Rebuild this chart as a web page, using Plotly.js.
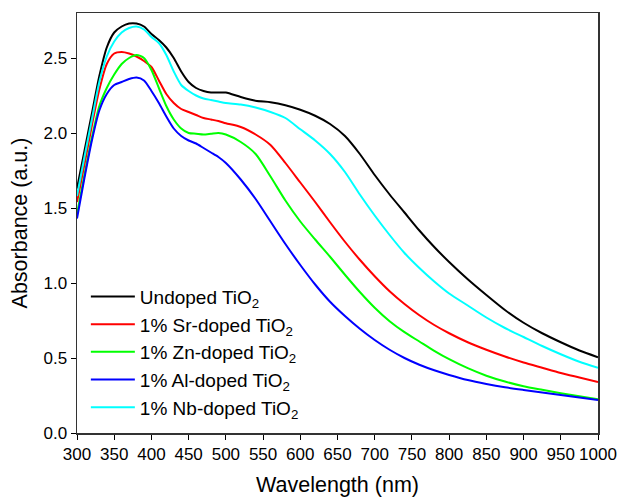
<!DOCTYPE html>
<html>
<head>
<meta charset="utf-8">
<script src="https://cdn.plot.ly/plotly-3.0.1.min.js"></script>
<style>
  html, body { margin: 0; padding: 0; background: #fff; }
  #chart { width: 619px; height: 497px; }
</style>
</head>
<body>
<div id="chart"></div>
<script>
const wavelength = [300, 310, 320, 330, 340, 350, 360, 370, 380, 390, 400, 410, 420, 430, 440, 450, 460, 470, 480, 490, 500, 520, 540, 560, 580, 600, 620, 640, 660, 680, 700, 720, 740, 760, 780, 800, 825, 850, 875, 900, 925, 950, 975, 1000];

const undoped = [1.63, 1.88, 2.13, 2.38, 2.57, 2.67, 2.71, 2.73, 2.73, 2.71, 2.66, 2.62, 2.57, 2.50, 2.41, 2.34, 2.30, 2.28, 2.27, 2.27, 2.27, 2.24, 2.215, 2.205, 2.185, 2.155, 2.115, 2.06, 1.98, 1.86, 1.72, 1.59, 1.47, 1.35, 1.24, 1.14, 1.025, 0.92, 0.82, 0.735, 0.665, 0.605, 0.55, 0.505];
const srDoped = [1.54, 1.79, 2.05, 2.29, 2.46, 2.53, 2.54, 2.53, 2.51, 2.48, 2.44, 2.35, 2.26, 2.20, 2.16, 2.14, 2.12, 2.10, 2.09, 2.08, 2.065, 2.04, 1.99, 1.92, 1.80, 1.67, 1.54, 1.405, 1.275, 1.155, 1.045, 0.945, 0.86, 0.785, 0.72, 0.665, 0.605, 0.555, 0.51, 0.47, 0.435, 0.40, 0.37, 0.34];
const znDoped = [1.46, 1.72, 1.97, 2.18, 2.30, 2.39, 2.46, 2.50, 2.52, 2.50, 2.42, 2.30, 2.18, 2.09, 2.03, 2.00, 1.995, 1.99, 1.995, 2.00, 1.99, 1.94, 1.86, 1.71, 1.55, 1.41, 1.29, 1.175, 1.055, 0.94, 0.835, 0.745, 0.672, 0.61, 0.548, 0.492, 0.432, 0.382, 0.343, 0.312, 0.288, 0.265, 0.245, 0.225];
const alDoped = [1.43, 1.70, 1.95, 2.15, 2.26, 2.32, 2.34, 2.36, 2.37, 2.35, 2.28, 2.20, 2.11, 2.03, 1.98, 1.95, 1.93, 1.90, 1.87, 1.84, 1.80, 1.69, 1.56, 1.41, 1.26, 1.12, 0.99, 0.875, 0.78, 0.695, 0.62, 0.555, 0.50, 0.455, 0.418, 0.387, 0.353, 0.327, 0.305, 0.287, 0.27, 0.254, 0.237, 0.22];
const nbDoped = [1.58, 1.84, 2.09, 2.34, 2.51, 2.61, 2.67, 2.70, 2.71, 2.69, 2.64, 2.60, 2.52, 2.41, 2.32, 2.28, 2.25, 2.23, 2.22, 2.21, 2.20, 2.19, 2.17, 2.14, 2.10, 2.025, 1.95, 1.86, 1.74, 1.59, 1.45, 1.32, 1.20, 1.10, 1.01, 0.93, 0.85, 0.77, 0.70, 0.64, 0.58, 0.525, 0.475, 0.435];

const seriesNames = ['Undoped TiO<sub>2</sub>', '1% Sr-doped TiO<sub>2</sub>', '1% Zn-doped TiO<sub>2</sub>', '1% Al-doped TiO<sub>2</sub>', '1% Nb-doped TiO<sub>2</sub>'];
const seriesValues = [undoped, srDoped, znDoped, alDoped, nbDoped];
const seriesColors = ['#000000', '#ff0000', '#00ff00', '#0000ff', '#00ffff'];

const xTicks = [300, 350, 400, 450, 500, 550, 600, 650, 700, 750, 800, 850, 900, 950, 1000];
const yTicks = [0.0, 0.5, 1.0, 1.5, 2.0, 2.5];

const traces = seriesValues.map((vals, i) => ({
  x: wavelength,
  y: vals,
  type: 'scatter',
  mode: 'lines',
  name: seriesNames[i],
  line: { color: seriesColors[i], width: 2, shape: 'spline', smoothing: 0.7 }
}));

const font = 'Liberation Sans, Arial, sans-serif';

const layout = {
  width: 619,
  height: 497,
  margin: { l: 77, r: 21, t: 13, b: 64 },
  paper_bgcolor: '#ffffff',
  plot_bgcolor: '#ffffff',
  font: { family: font, color: '#000000', size: 17 },
  showlegend: true,
  legend: {
    x: 0.017, y: 0.37, xanchor: 'left', yanchor: 'top',
    bgcolor: 'rgba(0,0,0,0)', borderwidth: 0,
    font: { family: font, size: 19, color: '#000000' },
    itemwidth: 44,
    tracegroupgap: 0
  },
  xaxis: {
    range: [300, 1000],
    tickmode: 'array', tickvals: xTicks, ticktext: xTicks.map(String),
    ticks: 'outside', ticklen: 5, tickwidth: 1, tickcolor: '#000',
    showline: true, linecolor: '#333', linewidth: 1.5, mirror: true,
    showgrid: false, zeroline: false,
    tickfont: { family: font, size: 17, color: '#000' },
    title: { text: 'Wavelength (nm)', font: { family: font, size: 21.5, color: '#000' }, standoff: 21 }
  },
  yaxis: {
    range: [0, 2.8],
    tickmode: 'array', tickvals: yTicks, ticktext: yTicks.map(v => v.toFixed(1)),
    ticks: 'outside', ticklen: 5, tickwidth: 1, tickcolor: '#000',
    showline: true, linecolor: '#333', linewidth: 1.5, mirror: true,
    showgrid: false, zeroline: false,
    tickfont: { family: font, size: 17, color: '#000' },
    title: { text: 'Absorbance (a.u.)', font: { family: font, size: 21.5, color: '#000' }, standoff: 10 }
  }
};

Plotly.newPlot('chart', traces, layout, { staticPlot: true, displayModeBar: false });
</script>
</body>
</html>
